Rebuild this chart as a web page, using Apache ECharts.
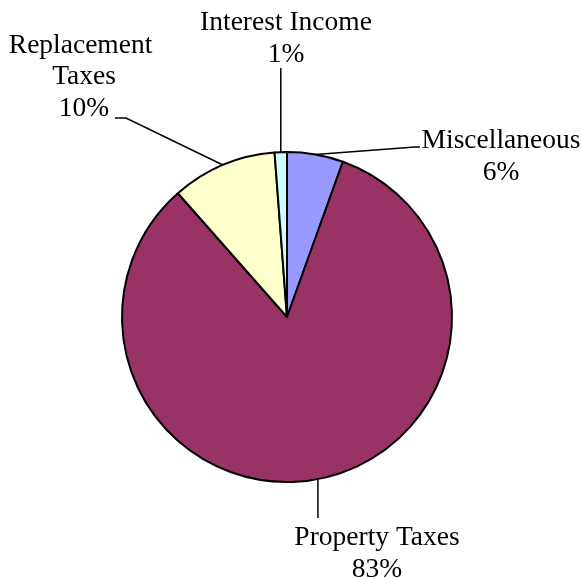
<!DOCTYPE html>
<html>
<head>
<meta charset="utf-8">
<script src="https://cdn.jsdelivr.net/npm/echarts@6/dist/echarts.min.js"></script>
<style>
html,body{margin:0;padding:0;background:#fff;}
#chart{width:582px;height:579px;}
</style>
</head>
<body>
<div id="chart"></div>
<script>
var categories = ['Miscellaneous', 'Property Taxes', 'Replacement Taxes', 'Interest Income'];
var values = [5.5, 83.0, 10.3, 1.2];
var colors = ['#9999FF', '#993366', '#FFFFCC', '#CCFFFF'];

// label block centres and leader bends (layout only)
var labelPos = [
  { x: 501, y: 157, line: function (a) { return [a, [415, 147], [420, 147]]; } },
  { x: 377, y: 554, line: function (a) { return [a, [a[0], 518]]; } },
  { x: 84, y: 77, line: function (a) { return [a, [126, 118], [115, 118]]; } },
  { x: 286, y: 39, line: function (a) { return [a, [a[0], 68]]; } }
];

var chart = echarts.init(document.getElementById('chart'));
var data = categories.map(function (c, i) {
  var item = { name: c, value: values[i], itemStyle: { color: colors[i] } };
  if (i === 2) item.label = { width: 160, overflow: 'break' };
  return item;
});

chart.setOption({
  animation: false,
  backgroundColor: '#ffffff',
  series: [{
    type: 'pie',
    center: [287, 317],
    radius: 165,
    startAngle: 90,
    clockwise: true,
    percentPrecision: 0,
    avoidLabelOverlap: false,
    data: data,
    itemStyle: { borderColor: '#000', borderWidth: 2 },
    label: {
      show: true,
      position: 'outside',
      formatter: '{b}\n{d}%',
      fontFamily: '"Liberation Serif", "Times New Roman", serif',
      fontSize: 27.5,
      lineHeight: 31.5,
      color: '#000',
      align: 'center'
    },
    labelLine: {
      show: true,
      length: 20,
      length2: 10,
      lineStyle: { color: '#000', width: 1.5 }
    },
    labelLayout: function (params) {
      var p = labelPos[params.dataIndex];
      var anchor = params.labelLinePoints ? params.labelLinePoints[0] : [0, 0];
      return {
        x: p.x,
        y: p.y,
        align: 'center',
        verticalAlign: 'middle',
        labelLinePoints: p.line(anchor)
      };
    },
    emphasis: { disabled: true }
  }]
});
</script>
</body>
</html>
